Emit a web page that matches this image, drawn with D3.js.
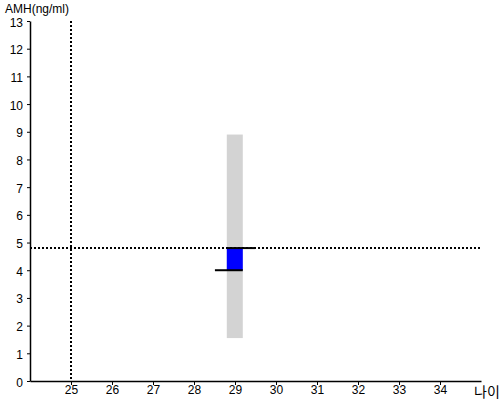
<!DOCTYPE html>
<html>
<head>
<meta charset="utf-8">
<script src="https://cdn.jsdelivr.net/npm/d3@7"></script>
<style>
  body { margin: 0; background: #fff; }
  text { font-family: "Liberation Sans", Arial, sans-serif; }
</style>
</head>
<body>
<div id="chart"></div>
<script>
// AMH by age

var width = 500
var height = 400

// data
var ageTicks = [25, 26, 27, 28, 29, 30, 31, 32, 33, 34]
var amhTicks = [0, 1, 2, 3, 4, 5, 6, 7, 8, 9, 10, 11, 12, 13]
var rangeAge = 29
var rangeLow = 1.55, rangeHigh = 8.9   // gray reference band
var boxLow = 4.0, boxHigh = 4.8        // blue box
var myAge = 25
var myAmh = 4.8

var svg = d3.select("#chart")
  .append("svg")
    .attr("width", width)
    .attr("height", height)

var x = d3.scaleLinear().domain([24, 35]).range([30, 481])
var y = d3.scaleLinear().domain([0, 13]).range([381, 21])

// gray band
svg.append("rect")
  .attr("x", x(rangeAge - 0.2))
  .attr("width", x(rangeAge + 0.19) - x(rangeAge - 0.2))
  .attr("y", y(rangeHigh))
  .attr("height", y(rangeLow) - y(rangeHigh))
  .style("fill", "#d3d3d3")

// blue box
svg.append("rect")
  .attr("x", x(rangeAge - 0.2))
  .attr("width", x(rangeAge + 0.19) - x(rangeAge - 0.2))
  .attr("y", y(boxHigh))
  .attr("height", y(boxLow) - y(boxHigh))
  .style("fill", "#0000ff")

// dotted guide lines
svg.append("line")
  .attr("x1", x(myAge)).attr("x2", x(myAge))
  .attr("y1", y(13)).attr("y2", y(0))
  .attr("stroke", "black").attr("stroke-width", 2)
  .attr("stroke-dasharray", "2,2")
svg.append("line")
  .attr("x1", x(24)).attr("x2", 480)
  .attr("y1", y(myAmh)).attr("y2", y(myAmh))
  .attr("stroke", "black").attr("stroke-width", 2)
  .attr("stroke-dasharray", "2,2")

// black caps
svg.append("line")
  .attr("x1", x(rangeAge - 0.2)).attr("x2", x(rangeAge + 0.49))
  .attr("y1", y(boxHigh)).attr("y2", y(boxHigh))
  .attr("stroke", "black").attr("stroke-width", 2)
svg.append("line")
  .attr("x1", x(rangeAge - 0.49)).attr("x2", x(rangeAge + 0.19))
  .attr("y1", y(boxLow)).attr("y2", y(boxLow))
  .attr("stroke", "black").attr("stroke-width", 2)

// axes
var xAxis = svg.append("g")
  .attr("transform", "translate(0," + y(0) + ")")
  .call(d3.axisBottom(x).tickValues(ageTicks).tickSize(4).tickSizeOuter(0))
var yAxis = svg.append("g")
  .attr("transform", "translate(" + x(24) + ",0)")
  .call(d3.axisLeft(y).tickValues(amhTicks).tickSize(3).tickSizeOuter(0))

svg.selectAll(".domain").attr("stroke", "black").attr("stroke-width", 1.5)
svg.selectAll(".tick line").attr("stroke", "black")
svg.selectAll(".tick text").attr("fill", "black").style("font-size", "12px")
  .style("font-family", "'Liberation Sans', Arial, sans-serif")
xAxis.selectAll(".tick text").attr("y", 13).attr("dy", 0)
yAxis.selectAll(".tick text").attr("x", -7).attr("dy", "0.42em")

// axis titles
svg.append("text")
  .attr("x", 5).attr("y", 13)
  .style("font-size", "12px")
  .text("AMH(ng/ml)")
svg.append("text")
  .attr("x", 474).attr("y", 397)
  .style("font-size", "14px")
  .style("font-family", "'Noto Sans CJK KR', sans-serif")
  .text("나이")
</script>
</body>
</html>
